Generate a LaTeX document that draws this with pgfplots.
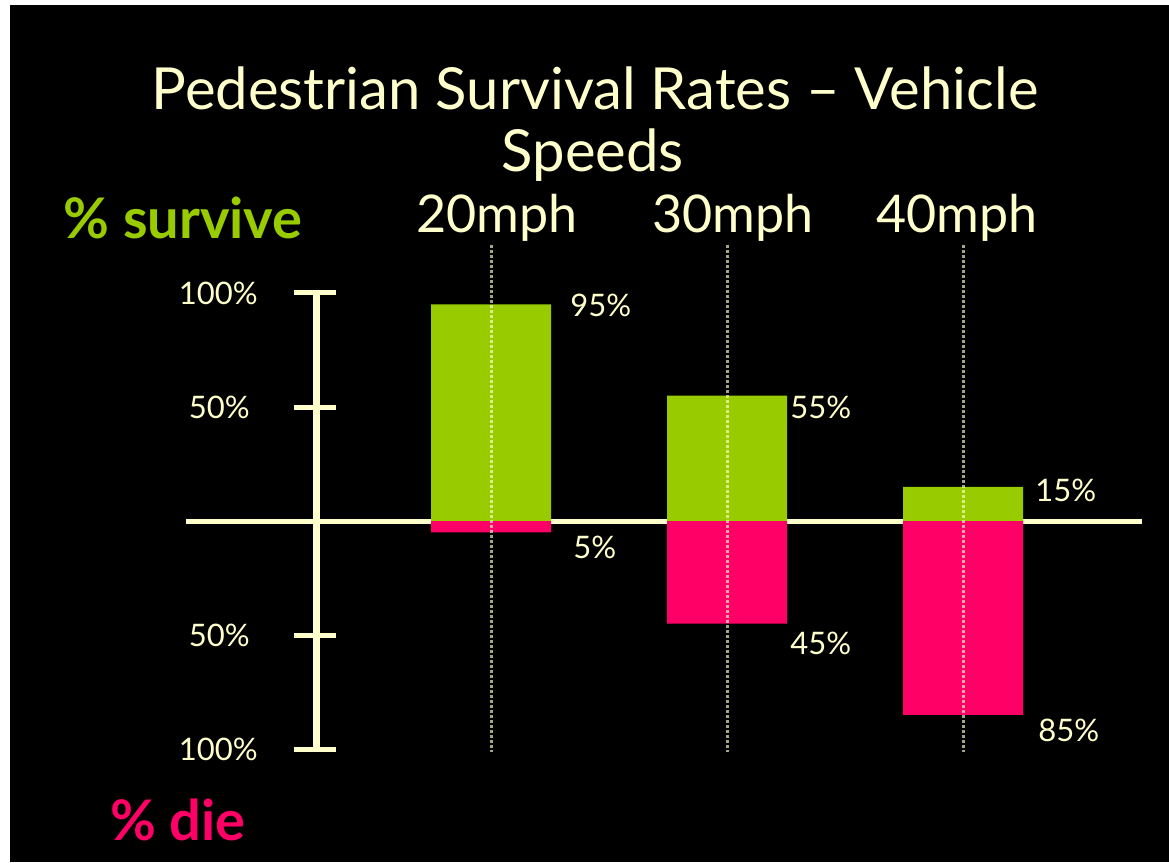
\documentclass[border=0pt]{standalone}
\usepackage{fontspec}
\setmainfont{Lato}
\usepackage{pgfplots}
\pgfplotsset{compat=1.18}
\definecolor{cream}{HTML}{FFFFCC}
\definecolor{sgreen}{HTML}{99CC00}
\definecolor{dpink}{HTML}{FF0066}
\begin{document}
\begin{tikzpicture}
\begin{axis}[
  scale only axis, width=584.5pt, height=431pt,
  xmin=-2.0805, xmax=2.8729, ymin=-149.56, ymax=228.51,
  hide axis, clip=false,
]
% background
\fill[white] (axis cs:-2.0805,-149.56) rectangle (axis cs:2.8729,228.51);
\fill[black] (axis cs:-2.0381,-149.56) rectangle (axis cs:2.8729,226.3);
% zero line
\draw[cream, line width=2.5pt] (axis cs:-1.2924,0) -- (axis cs:2.7585,0);
% custom vertical scale
\draw[cream, line width=3.5pt] (axis cs:-0.7415,100) -- (axis cs:-0.7415,-100);
\draw[cream, line width=2.5pt] (axis cs:-0.8347,100) -- (axis cs:-0.6568,100);
\draw[cream, line width=2.5pt] (axis cs:-0.8347,50) -- (axis cs:-0.6568,50);
\draw[cream, line width=2.5pt] (axis cs:-0.8347,-50) -- (axis cs:-0.6568,-50);
\draw[cream, line width=2.5pt] (axis cs:-0.8347,-100) -- (axis cs:-0.6568,-100);
\node[cream, anchor=east, inner sep=0pt, font=\fontsize{15.5}{18}\selectfont] at (axis cs:-0.987,100) {100\%};
\node[cream, anchor=east, inner sep=0pt, font=\fontsize{15.5}{18}\selectfont] at (axis cs:-1.021,50) {50\%};
\node[cream, anchor=east, inner sep=0pt, font=\fontsize{15.5}{18}\selectfont] at (axis cs:-1.021,-50) {50\%};
\node[cream, anchor=east, inner sep=0pt, font=\fontsize{15.5}{18}\selectfont] at (axis cs:-0.987,-100) {100\%};
% bars
\addplot[ybar, bar width=0.5085, bar shift=0, fill=sgreen, draw=none] coordinates {(0,95) (1,55) (2,15)};
\addplot[ybar, bar width=0.5085, bar shift=0, fill=dpink, draw=none] coordinates {(0,-5) (1,-45) (2,-85)};
% dashed guide lines
\addplot[cream, opacity=0.65, line width=1.5pt, dash pattern=on 1.5pt off 1pt] coordinates {(0,121) (0,-101.3)};
\addplot[cream, opacity=0.65, line width=1.5pt, dash pattern=on 1.5pt off 1pt] coordinates {(1,121) (1,-101.3)};
\addplot[cream, opacity=0.65, line width=1.5pt, dash pattern=on 1.5pt off 1pt] coordinates {(2,121) (2,-101.3)};
% value labels
\node[cream, anchor=west, inner sep=0pt, font=\fontsize{15.5}{18}\selectfont] at (axis cs:0.335,94.7) {95\%};
\node[cream, anchor=west, inner sep=0pt, font=\fontsize{15.5}{18}\selectfont] at (axis cs:1.267,50) {55\%};
\node[cream, anchor=west, inner sep=0pt, font=\fontsize{15.5}{18}\selectfont] at (axis cs:2.305,13.6) {15\%};
\node[cream, anchor=west, inner sep=0pt, font=\fontsize{15.5}{18}\selectfont] at (axis cs:0.347,-11.4) {5\%};
\node[cream, anchor=west, inner sep=0pt, font=\fontsize{15.5}{18}\selectfont] at (axis cs:1.267,-53.5) {45\%};
\node[cream, anchor=west, inner sep=0pt, font=\fontsize{15.5}{18}\selectfont] at (axis cs:2.318,-91.7) {85\%};
% category labels
\node[cream, font=\fontsize{26}{30}\selectfont] at (axis cs:0.025,132.9) {20mph};
\node[cream, font=\fontsize{26}{30}\selectfont] at (axis cs:1.025,132.9) {30mph};
\node[cream, font=\fontsize{26}{30}\selectfont] at (axis cs:1.975,132.9) {40mph};
\node[sgreen, font=\fontsize{28}{32}\selectfont\bfseries] at (axis cs:-1.305,132.9) {\% survive};
\node[dpink, font=\fontsize{28}{32}\selectfont\bfseries] at (axis cs:-1.326,-131.1) {\% die};
% title
\node[cream, font=\fontsize{29}{33}\selectfont] at (axis cs:0.441,189.9) {Pedestrian Survival Rates – Vehicle};
\node[cream, font=\fontsize{29}{33}\selectfont] at (axis cs:0.432,160.5) {Speeds};
\end{axis}
\end{tikzpicture}
\end{document}
